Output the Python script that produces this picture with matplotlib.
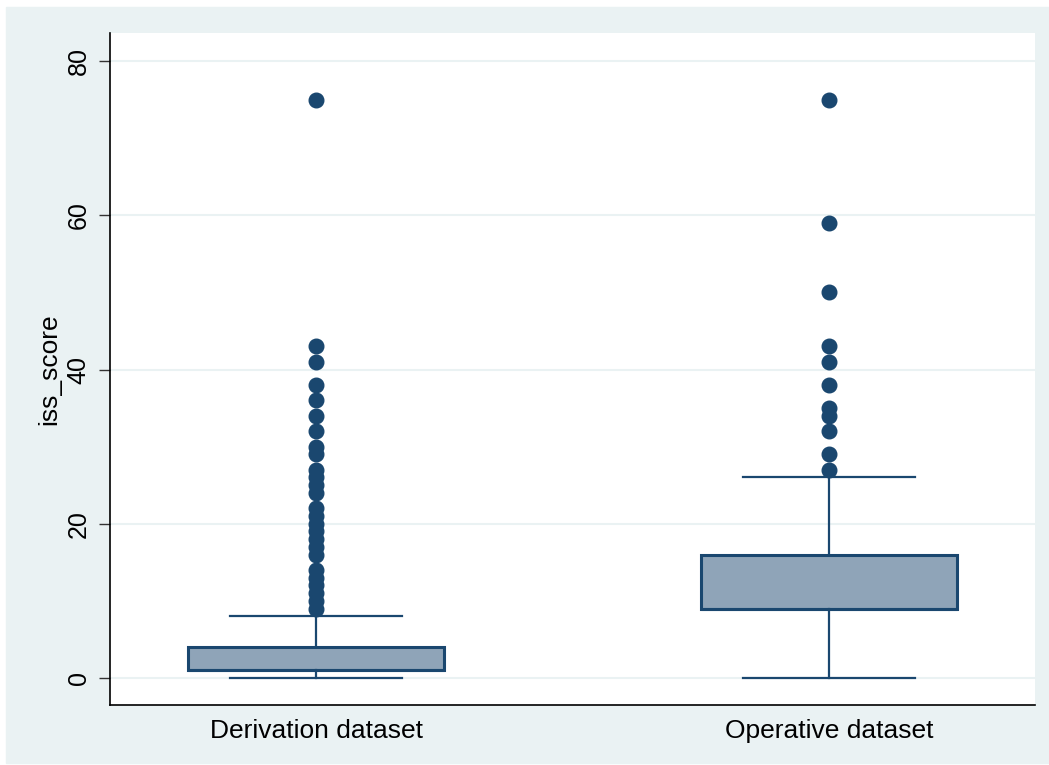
import matplotlib.pyplot as plt
from matplotlib.patches import Rectangle

plt.rcParams['font.family'] = ['Liberation Sans', 'DejaVu Sans']

groups = ["Derivation dataset", "Operative dataset"]
q1 = [1, 9]
med = [1, 9]
q3 = [4, 16]
whislo = [0, 0]
whishi = [8, 26]
fliers = [
    [75, 43, 41, 38, 36, 34, 32, 30, 29, 27, 26, 25, 24, 22, 21, 20, 19,
     18, 17, 16, 14, 13, 12, 11, 10, 9],
    [75, 59, 50, 43, 41, 38, 35, 34, 32, 29, 27],
]
yticks = [0, 20, 40, 60, 80]

bg = '#eaf2f3'
navy = '#1a476f'

fig = plt.figure(figsize=(10.49, 7.65), dpi=100, facecolor='white')
fig.patches.append(Rectangle((6 / 1049, 2 / 765), 1 - 6 / 1049, 1 - 9 / 765,
                             transform=fig.transFigure, color=bg, zorder=-10))
ax = fig.add_axes([110 / 1049, 60 / 765, 925 / 1049, 672 / 765])

stats = []
for i, g in enumerate(groups):
    stats.append(dict(label=g, q1=q1[i], med=med[i], q3=q3[i],
                      whislo=whislo[i], whishi=whishi[i], fliers=fliers[i]))

ax.bxp(stats, positions=[1, 2], widths=0.5, patch_artist=True,
       capwidths=0.335,
       boxprops=dict(facecolor='#8fa4b8', edgecolor=navy, linewidth=2.2),
       medianprops=dict(color=navy, linewidth=2.2),
       whiskerprops=dict(color=navy, linewidth=1.6),
       capprops=dict(color=navy, linewidth=1.6),
       flierprops=dict(marker='o', markerfacecolor=navy, markeredgecolor=navy,
                       markersize=10.5))

ax.set_xlim(0.5984, 2.4016)
ax.set_ylim(-3.5, 83.63)
ax.set_yticks(yticks)
ax.set_yticklabels([str(t) for t in yticks], rotation=90, va='center',
                   fontsize=18)
ax.tick_params(axis='y', length=8, width=1, pad=6, color='#333333')
ax.tick_params(axis='x', length=0, pad=10, labelsize=19)
ax.grid(axis='y', color=bg, linewidth=1.5)
ax.set_axisbelow(True)
ax.set_ylabel("iss_score", fontsize=19, labelpad=4)

for side in ['top', 'right']:
    ax.spines[side].set_visible(False)
for side in ['left', 'bottom']:
    ax.spines[side].set_color('black')
    ax.spines[side].set_linewidth(1.2)

fig.savefig("out.png", dpi=100, facecolor=fig.get_facecolor())
